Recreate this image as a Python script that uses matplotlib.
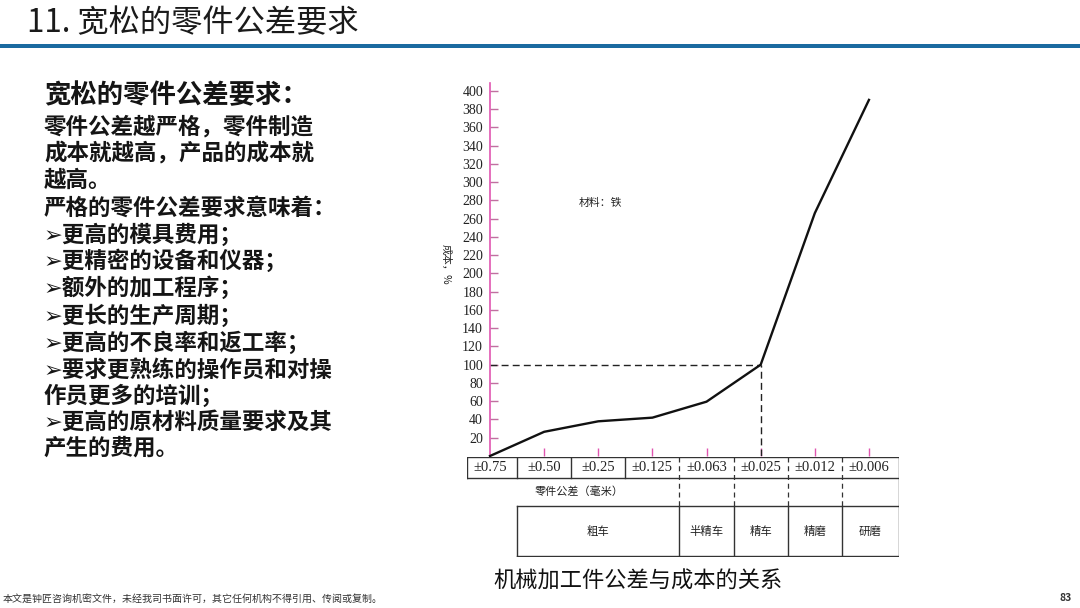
import matplotlib.pyplot as plt

plt.rcParams['font.family'] = ['Noto Sans CJK SC', 'DejaVu Sans']

# 数据
tolerances = ['±0.75', '±0.50', '±0.25', '±0.125', '±0.063', '±0.025', '±0.012', '±0.006']
cost = [0, 26.5, 38, 42, 59.5, 100, 266, 390]
yticks = list(range(20, 401, 20))
processes = ['粗车', '半精车', '精车', '精磨', '研磨']
proc_bounds = [0.5, 3.5, 4.5, 5.5, 6.5, 7.555]   # 各工序在公差轴上的边界

W, H = 1080, 608
fig = plt.figure(figsize=(W / 100, H / 100), dpi=100)
fig.patch.set_facecolor('white')

# 标题和蓝色横条
fig.text(27 / W, 1 - 23 / H, '11. 宽松的零件公差要求', fontsize=22.5, color='#1a1a1a',
         va='center', ha='left')
fig.add_artist(plt.Rectangle((0, 1 - 48 / H), 1, 4.5 / H, transform=fig.transFigure,
                             color='#1a6aa0', lw=0))

# 左侧文字
lines = ['宽松的零件公差要求：',
         '零件公差越严格，零件制造',
         '成本就越高，产品的成本就',
         '越高。',
         '严格的零件公差要求意味着：',
         '➢更高的模具费用；',
         '➢更精密的设备和仪器；',
         '➢额外的加工程序；',
         '➢更长的生产周期；',
         '➢更高的不良率和返工率；',
         '➢要求更熟练的操作员和对操',
         '作员更多的培训；',
         '➢更高的原材料质量要求及其',
         '产生的费用。']
ys = [96, 127, 153, 180, 208, 235, 261, 288, 316, 343, 370, 396, 422, 448]
for i, (s, y) in enumerate(zip(lines, ys)):
    fig.text(44 / W, 1 - y / H, s, fontsize=19 if i == 0 else 16.2,
             fontweight='bold', color='#151515', va='center', ha='left')

# 页脚
fig.text(3 / W, 1 - 599 / H, '本文是钟匠咨询机密文件，未经我司书面许可，其它任何机构不得引用、传阅或复制。',
         fontsize=7.2, color='#333333', va='center', ha='left')
fig.text(1066 / W, 1 - 598 / H, '83', fontsize=7.5, fontweight='bold', color='#333333',
         va='center', ha='center')

# 主图
ax = fig.add_axes([490 / W, 1 - 456 / H, (899 - 490) / W, (456 - 83) / H])
xs = list(range(len(tolerances)))
ax.plot(xs, cost, color='#111111', lw=1.7, clip_on=False, zorder=3)
ax.plot([0, 5], [100, 100], color='#222222', lw=1.0, ls=(0, (5, 3)))
ax.plot([5, 5], [0, 100], color='#222222', lw=1.0, ls=(0, (5, 3)))
ax.set_xlim(0, 7.555)
ax.set_ylim(0, 408.5)
for side in ['top', 'right', 'bottom']:
    ax.spines[side].set_visible(False)
ax.spines['left'].set_color('#e055b0')
ax.spines['left'].set_linewidth(1.2)
ax.set_yticks(yticks)
ax.set_yticklabels([str(v) for v in yticks], family='Liberation Serif', fontsize=10,
                   color='#222222')
ax.tick_params(axis='y', direction='in', length=6, width=1, color='#c070a0', pad=5)
ax.set_xticks(xs[1:])
ax.set_xticklabels([])
ax.tick_params(axis='x', direction='in', length=6, width=1, color='#e055b0')
ax.text(-0.82, 210, '成本，%', rotation=-90, fontsize=7.5, ha='center', va='center',
        color='#222222')
ax.text(2.05, 277, '材料：铁', fontsize=7.8, ha='center', va='center', color='#222222')

# 下方表格
tab = fig.add_axes([466.7 / W, 1 - 557 / H, (899 - 466.7) / W, (557 - 456.5) / H])
tab.set_xlim(-0.43, 7.555)
tab.set_ylim(557, 456.5)
tab.axis('off')
lc = '#333333'
# 公差一行
tab.plot([-0.43, 7.555], [457, 457], color=lc, lw=1)
tab.plot([-0.43, 7.555], [477.5, 477.5], color=lc, lw=1)
tab.plot([-0.43, -0.43], [457, 477.5], color=lc, lw=1)
tab.plot([7.555, 7.555], [457, 505.5], color=lc, lw=1)
for b in [0.5, 1.5, 2.5]:
    tab.plot([b, b], [457, 477.5], color=lc, lw=1)
for b in [3.5, 4.5, 5.5, 6.5]:
    tab.plot([b, b], [457, 505.5], color=lc, lw=0.9, ls=(0, (4, 3)))
for i, t in enumerate(tolerances):
    tab.text(i, 467.5, t, family='Liberation Serif', fontsize=10.5, ha='center',
             va='center', color='#222222')
tab.text(1.65, 491.5, '零件公差（毫米）', fontsize=8, ha='center', va='center',
         color='#222222')
# 加工方法一行
tab.plot([0.5, 7.555], [505.5, 505.5], color=lc, lw=1)
tab.plot([0.5, 7.555], [555.5, 555.5], color=lc, lw=1)
for b in proc_bounds:
    tab.plot([b, b], [505.5, 555.5], color=lc, lw=1)
for p, a, b in zip(processes, proc_bounds[:-1], proc_bounds[1:]):
    tab.text((a + b) / 2, 531.5, p, fontsize=8.2, ha='center', va='center',
             color='#222222')

# 图题
fig.text(638 / W, 1 - 581 / H, '机械加工件公差与成本的关系', fontsize=16,
         ha='center', va='center', color='#111111')

fig.savefig('out.png', dpi=100)
